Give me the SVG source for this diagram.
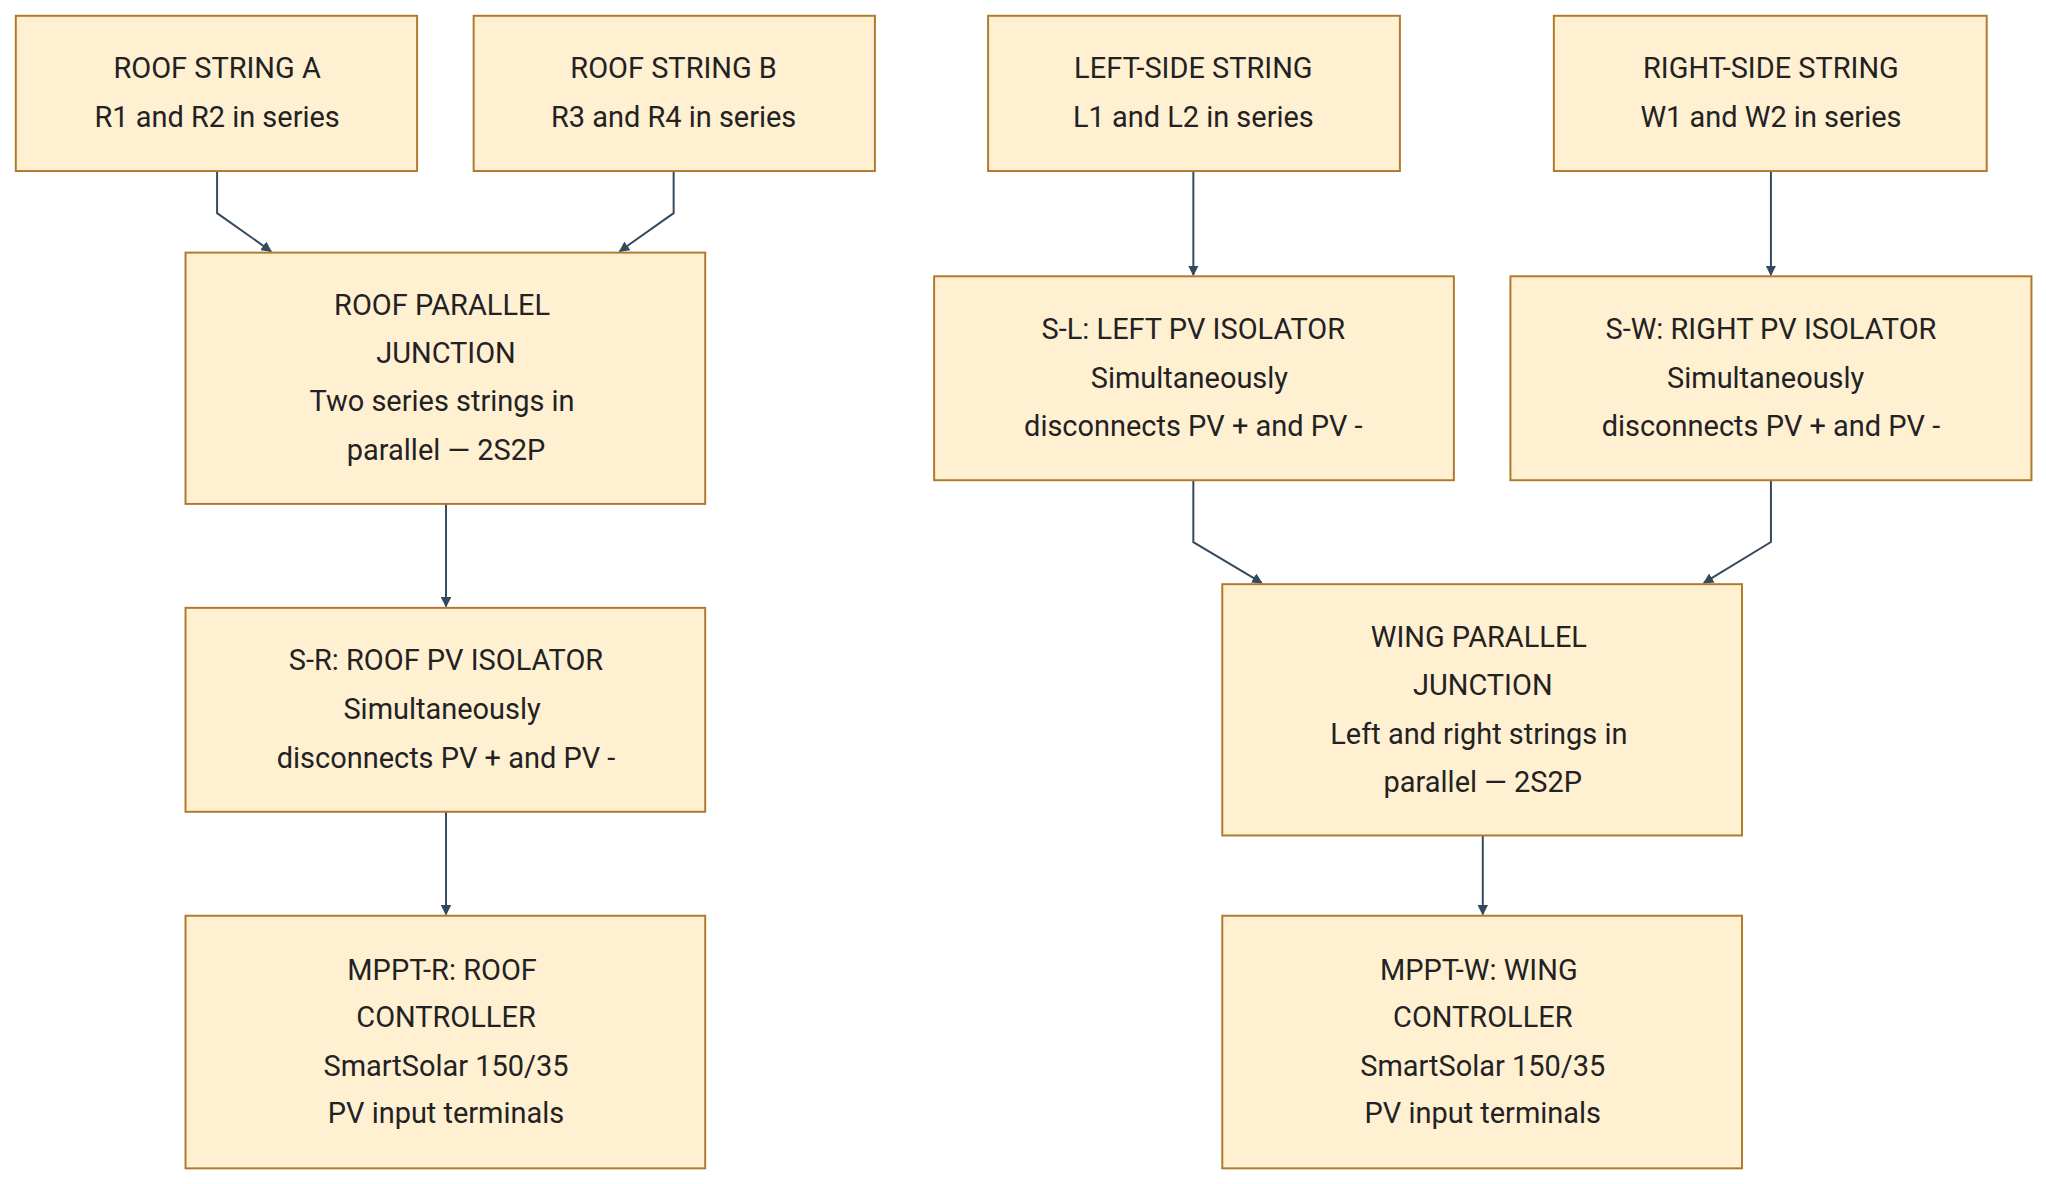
<svg xmlns="http://www.w3.org/2000/svg" width="2046" height="1184" viewBox="0 0 2046 1184">
<defs>
<style>
.n rect{fill:#fff0d2;stroke:#b07a2c;stroke-width:1.5}
.n text{font-family:Roboto,"Liberation Sans",Arial,sans-serif;font-size:22px;fill:#222;text-anchor:middle;dominant-baseline:central}
.e path{fill:none;stroke:#34495e;stroke-width:1.5;marker-end:url(#a)}
</style>
<marker id="a" viewBox="0 0 10 10" refX="9" refY="5" markerWidth="8" markerHeight="8" orient="auto" markerUnits="userSpaceOnUse"><path d="M0,0L10,5L0,10z" fill="#34495e"/></marker>
</defs>
<rect width="2046" height="1184" fill="#fff"/>
<g transform="scale(1.3157)">
<g class="e">
<path d="M165,130V162L206,191"/>
<path d="M512,130V162L471,191"/>
<path d="M339,383V461"/>
<path d="M339,617V695"/>
<path d="M907,130V209"/>
<path d="M1346,130V209"/>
<path d="M907,365V412L959,443"/>
<path d="M1346,365V412L1295,443"/>
<path d="M1127,635V695"/>
</g>
<g id="roofA" class="n"><rect x="12" y="12" width="305" height="118"/><text x="165" y="52">ROOF STRING A</text><text x="165" y="89">R1 and R2 in series</text></g>
<g id="roofB" class="n"><rect x="360" y="12" width="305" height="118"/><text x="512" y="52">ROOF STRING B</text><text x="512" y="89">R3 and R4 in series</text></g>
<g id="left" class="n"><rect x="751" y="12" width="313" height="118"/><text x="907" y="52">LEFT-SIDE STRING</text><text x="907" y="89">L1 and L2 in series</text></g>
<g id="right" class="n"><rect x="1181" y="12" width="329" height="118"/><text x="1346" y="52">RIGHT-SIDE STRING</text><text x="1346" y="89">W1 and W2 in series</text></g>
<g id="roofPar" class="n"><rect x="141" y="192" width="395" height="191"/><text x="336" y="232">ROOF PARALLEL</text><text x="339" y="268">JUNCTION</text><text x="336" y="305">Two series strings in</text><text x="339" y="342">parallel — 2S2P</text></g>
<g id="sr" class="n"><rect x="141" y="462" width="395" height="155"/><text x="339" y="502">S-R: ROOF PV ISOLATOR</text><text x="336" y="539">Simultaneously</text><text x="339" y="576">disconnects PV + and PV -</text></g>
<g id="mpptR" class="n"><rect x="141" y="696" width="395" height="192"/><text x="336" y="737">MPPT-R: ROOF</text><text x="339" y="773">CONTROLLER</text><text x="339" y="810">SmartSolar 150/35</text><text x="339" y="846">PV input terminals</text></g>
<g id="sl" class="n"><rect x="710" y="210" width="395" height="155"/><text x="907" y="250">S-L: LEFT PV ISOLATOR</text><text x="904" y="287">Simultaneously</text><text x="907" y="324">disconnects PV + and PV -</text></g>
<g id="sw" class="n"><rect x="1148" y="210" width="396" height="155"/><text x="1346" y="250">S-W: RIGHT PV ISOLATOR</text><text x="1342" y="287">Simultaneously</text><text x="1346" y="324">disconnects PV + and PV -</text></g>
<g id="wing" class="n"><rect x="929" y="444" width="395" height="191"/><text x="1124" y="484">WING PARALLEL</text><text x="1127" y="521">JUNCTION</text><text x="1124" y="558">Left and right strings in</text><text x="1127" y="594">parallel — 2S2P</text></g>
<g id="mpptW" class="n"><rect x="929" y="696" width="395" height="192"/><text x="1124" y="737">MPPT-W: WING</text><text x="1127" y="773">CONTROLLER</text><text x="1127" y="810">SmartSolar 150/35</text><text x="1127" y="846">PV input terminals</text></g>
</g>
</svg>
